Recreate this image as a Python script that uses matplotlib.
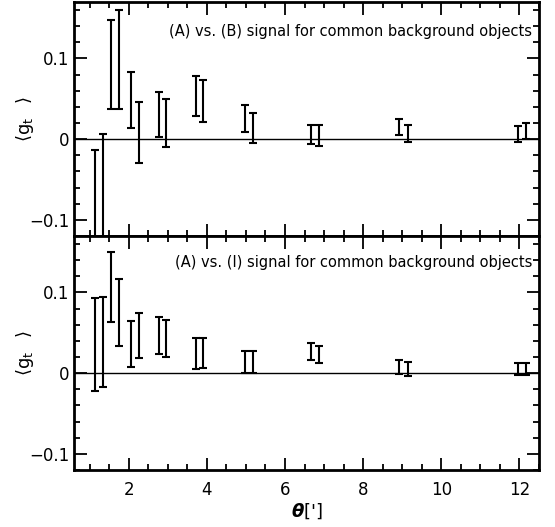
import numpy as np
import matplotlib
matplotlib.use('Agg')
import matplotlib.pyplot as plt
from matplotlib.ticker import MultipleLocator

# angular separation of the bins [arcmin]
theta = [1.15, 1.34, 1.55, 1.74, 2.06, 2.27, 2.77, 2.96, 3.72, 3.91,
         4.98, 5.18, 6.66, 6.87, 8.93, 9.14, 11.97, 12.17]

# (A) vs. (B): lower / upper ends of the error bars
ab_lo = [-0.16, -0.16, 0.037, 0.038, 0.014, -0.030, 0.003, -0.010, 0.029, 0.021,
         0.009, -0.005, -0.006, -0.009, 0.005, -0.004, -0.003, 0.000]
ab_hi = [-0.013, 0.007, 0.148, 0.160, 0.083, 0.046, 0.058, 0.050, 0.078, 0.073,
         0.042, 0.033, 0.017, 0.017, 0.025, 0.017, 0.016, 0.020]

# (A) vs. (I)
ai_lo = [-0.022, -0.017, 0.064, 0.034, 0.0075, 0.019, 0.024, 0.020, 0.005, 0.006,
         0.0005, 0.0005, 0.016, 0.013, -0.001, -0.003, -0.002, -0.002]
ai_hi = [0.093, 0.095, 0.150, 0.117, 0.065, 0.075, 0.069, 0.066, 0.044, 0.044,
         0.028, 0.027, 0.037, 0.034, 0.016, 0.014, 0.013, 0.013]

labels = ['(A) vs. (B) signal for common background objects',
          '(A) vs. (I) signal for common background objects']
label_y = [0.872, 0.885]

fig = plt.figure(figsize=(5.55, 5.27), dpi=100)
ax1 = fig.add_axes([0.1333, 0.5522, 0.8378, 0.4440])
ax2 = fig.add_axes([0.1333, 0.1082, 0.8378, 0.4440], sharex=ax1)

def fmt(v, p):
    if abs(v) < 1e-9:
        return '0'
    return ('%g' % v).replace('-', '\u2212')

for ax, lo, hi, lab, ly in [(ax1, ab_lo, ab_hi, labels[0], label_y[0]),
                            (ax2, ai_lo, ai_hi, labels[1], label_y[1])]:
    lo = np.array(lo)
    hi = np.array(hi)
    mid = (lo + hi) / 2
    err = (hi - lo) / 2
    ax.errorbar(theta, mid, yerr=err, fmt='none', ecolor='black',
                elinewidth=1.5, capsize=2.6, capthick=1.5)
    ax.axhline(0, color='black', lw=1)
    ax.set_xlim(0.6, 12.5)
    ax.set_ylim(-0.12, 0.17)
    ax.xaxis.set_major_locator(MultipleLocator(2))
    ax.xaxis.set_minor_locator(MultipleLocator(0.5))
    ax.yaxis.set_major_locator(MultipleLocator(0.1))
    ax.yaxis.set_minor_locator(MultipleLocator(0.02))
    ax.yaxis.set_major_formatter(plt.FuncFormatter(fmt))
    ax.tick_params(which='both', direction='in', top=True, right=True, labelsize=12, width=1.3)
    ax.tick_params(which='major', length=9)
    ax.tick_params(which='minor', length=4.5)
    ax.tick_params(axis='x', pad=8)
    for s in ax.spines.values():
        s.set_linewidth(2)
    ax.set_ylabel(r'$\langle \mathrm{g_t}\;\;\;\rangle$', fontsize=13)
    ax.yaxis.set_label_coords(-0.105, 0.5)
    ax.yaxis.label.set_va('center')
    ax.text(0.985, ly, lab, transform=ax.transAxes, ha='right', va='center', fontsize=10.5)

plt.setp(ax1.get_xticklabels(), visible=False)
ax2.set_xlabel(r"$\boldsymbol{\theta}$[']", fontsize=13, labelpad=2)

fig.savefig('out.png', dpi=100)
